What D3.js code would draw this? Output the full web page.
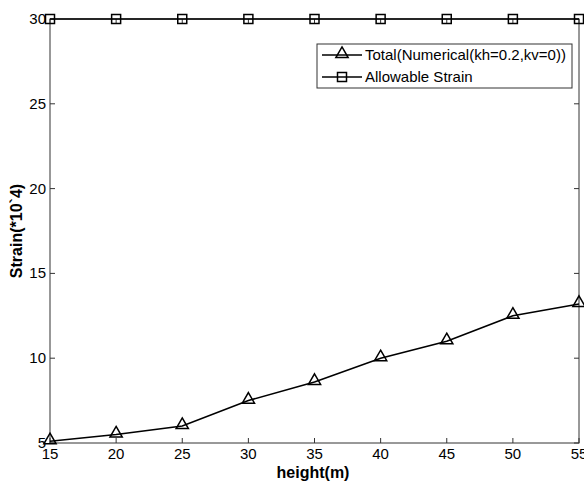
<!DOCTYPE html>
<html>
<head>
<meta charset="utf-8" />
<title>Strain vs height</title>
<style>
html, body { margin: 0; padding: 0; background: #fff; }
svg { display: block; font-family: "Liberation Sans", Arial, sans-serif; }
</style>
</head>
<body>
<div id="chart"></div>
<script src="https://cdnjs.cloudflare.com/ajax/libs/d3/7.8.5/d3.min.js"></script>
<script>
var heights = [15, 20, 25, 30, 35, 40, 45, 50, 55];
var totalStrain = [5.1, 5.5, 6.0, 7.5, 8.6, 10.0, 11.0, 12.5, 13.2];
var allowStrain = [30, 30, 30, 30, 30, 30, 30, 30, 30];
var xTicks = [15, 20, 25, 30, 35, 40, 45, 50, 55];
var yTicks = [5, 10, 15, 20, 25, 30];
var seriesNames = ["Total(Numerical(kh=0.2,kv=0))", "Allowable Strain"];

!(function(){
    "use strict"
    var W = 584, H = 483
    var m = {left: 50, right: 5, top: 19, bottom: 40}

    var svg = d3.select("#chart").append("svg").attr("width", W).attr("height", H)

    var x = d3.scaleLinear().domain([15, 55]).range([m.left, W - m.right])
    var y = d3.scaleLinear().domain([5, 30]).range([H - m.bottom, m.top])

    // frame
    svg.append("rect")
        .attr("x", x(15)).attr("y", y(30))
        .attr("width", x(55) - x(15)).attr("height", y(5) - y(30))
        .attr("fill", "none").attr("stroke", "#333").attr("stroke-width", 1)

    var tl = 5
    xTicks.forEach(function(t){
        svg.append("line").attr("x1", x(t)).attr("x2", x(t)).attr("y1", y(5)).attr("y2", y(5) - tl).attr("stroke", "#333")
        svg.append("line").attr("x1", x(t)).attr("x2", x(t)).attr("y1", y(30)).attr("y2", y(30) + tl).attr("stroke", "#333")
        svg.append("text").attr("x", x(t)).attr("y", y(5) + 16)
            .attr("text-anchor", "middle").attr("font-size", 15).text(t)
    })
    yTicks.forEach(function(t){
        svg.append("line").attr("x1", x(15)).attr("x2", x(15) + tl).attr("y1", y(t)).attr("y2", y(t)).attr("stroke", "#333")
        svg.append("line").attr("x1", x(55)).attr("x2", x(55) - tl).attr("y1", y(t)).attr("y2", y(t)).attr("stroke", "#333")
        svg.append("text").attr("x", x(15) - 4).attr("y", y(t) + 5)
            .attr("text-anchor", "end").attr("font-size", 15).text(t)
    })

    // axis labels
    svg.append("text").attr("x", 313).attr("y", 478)
        .attr("text-anchor", "middle").attr("font-size", 16).attr("font-weight", "bold").text("height(m)")
    svg.append("text").attr("transform", "translate(22," + 231 + ") rotate(-90)")
        .attr("text-anchor", "middle").attr("font-size", 16).attr("font-weight", "bold").text("Strain(*10`4)")

    var line = d3.line().x(function(d){ return x(d[0]) }).y(function(d){ return y(d[1]) })
    var totalPts = heights.map(function(h, i){ return [h, totalStrain[i]] })
    var allowPts = heights.map(function(h, i){ return [h, allowStrain[i]] })

    svg.append("path").datum(totalPts).attr("d", line).attr("fill", "none").attr("stroke", "#000").attr("stroke-width", 1.6)
    svg.append("path").datum(allowPts).attr("d", line).attr("fill", "none").attr("stroke", "#000").attr("stroke-width", 1.3)

    var tri = d3.symbol().type(d3.symbolTriangle).size(65)
    function triangle(g, cx, cy) {
        g.append("path").attr("d", tri()).attr("transform", "translate(" + cx + "," + (cy - 1) + ")")
            .attr("fill", "none").attr("stroke", "#000").attr("stroke-width", 1.5)
    }
    function square(g, cx, cy) {
        g.append("rect").attr("x", cx - 4.5).attr("y", cy - 4.5).attr("width", 9).attr("height", 9)
            .attr("fill", "none").attr("stroke", "#000").attr("stroke-width", 1.5)
    }
    totalPts.forEach(function(p){ triangle(svg, x(p[0]), y(p[1])) })
    allowPts.forEach(function(p){ square(svg, x(p[0]), y(p[1])) })

    // legend
    var lg = svg.append("g")
    lg.append("rect").attr("x", 317).attr("y", 44).attr("width", 255).attr("height", 44)
        .attr("fill", "#fff").attr("stroke", "#333").attr("stroke-width", 1)
    var rows = [55, 77]
    rows.forEach(function(ry, i){
        lg.append("line").attr("x1", 322).attr("x2", 362).attr("y1", ry).attr("y2", ry).attr("stroke", "#000").attr("stroke-width", 1.4)
        if (i === 0) triangle(lg, 342, ry); else square(lg, 342, ry)
        lg.append("text").attr("x", 365).attr("y", ry + 5).attr("font-size", 15).text(seriesNames[i])
    })
}());
</script>
</body>
</html>
